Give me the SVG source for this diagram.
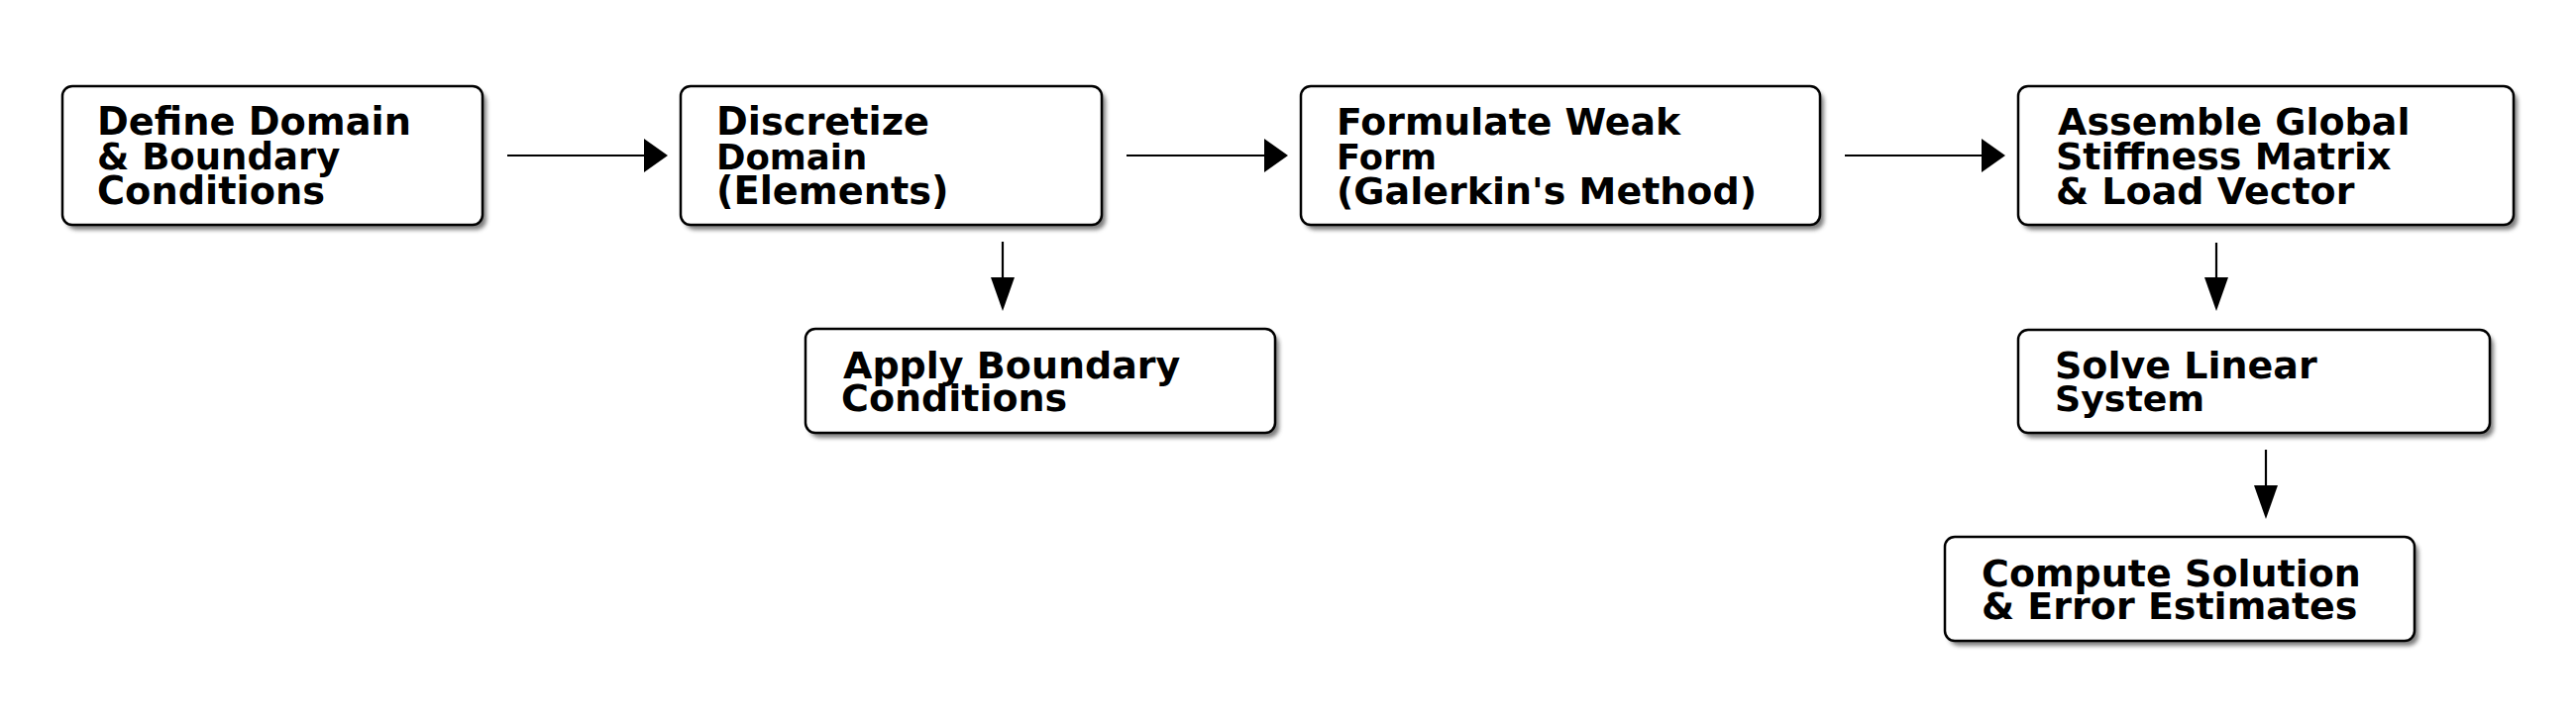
<svg xmlns="http://www.w3.org/2000/svg" width="2600" height="735" viewBox="0 0 2600 735">
<style>
.box{fill:#ffffff;stroke:#000000;stroke-width:2.5}
.shadow{fill:#666666;opacity:0.85}
.t{font-family:"DejaVu Sans","Verdana",sans-serif;font-weight:bold;fill:#000000}
.edge{stroke:#000000;stroke-width:2.2;fill:none}
.head{fill:#000000;stroke:none}
</style>
<defs>
<filter id="blur" x="-10%" y="-10%" width="120%" height="130%">
<feGaussianBlur stdDeviation="2"/>
</filter>
</defs>
<rect width="2600" height="735" fill="#ffffff"/>

<g id="n1">
<rect class="shadow" filter="url(#blur)" x="67" y="92" width="424" height="140" rx="10"/>
<rect class="box" x="63" y="87" width="424" height="140" rx="10"/>
<text class="t" x="98" y="136" font-size="38.3">Define Domain</text>
<text class="t" x="98" y="171" font-size="37">&amp; Boundary</text>
<text class="t" x="98" y="206" font-size="38.3">Conditions</text>
</g>

<g id="n2">
<rect class="shadow" filter="url(#blur)" x="691" y="92" width="425" height="140" rx="10"/>
<rect class="box" x="687" y="87" width="425" height="140" rx="10"/>
<text class="t" x="723" y="136" font-size="38.3">Discretize</text>
<text class="t" x="723" y="171" font-size="35.5">Domain</text>
<text class="t" x="723" y="206" font-size="38.3">(Elements)</text>
</g>

<g id="n3">
<rect class="shadow" filter="url(#blur)" x="1317" y="92" width="524" height="140" rx="10"/>
<rect class="box" x="1313" y="87" width="524" height="140" rx="10"/>
<text class="t" x="1349" y="136" font-size="37.8">Formulate Weak</text>
<text class="t" x="1349" y="171" font-size="35.3">Form</text>
<text class="t" x="1349" y="206" font-size="38">(Galerkin's Method)</text>
</g>

<g id="n4">
<rect class="shadow" filter="url(#blur)" x="2041" y="92" width="500" height="140" rx="10"/>
<rect class="box" x="2037" y="87" width="500" height="140" rx="10"/>
<text class="t" x="2077" y="136" font-size="38">Assemble Global</text>
<text class="t" x="2075" y="171" font-size="38">Stiffness Matrix</text>
<text class="t" x="2075" y="206" font-size="38">&amp; Load Vector</text>
</g>

<g id="n5">
<rect class="shadow" filter="url(#blur)" x="817" y="337" width="474" height="105" rx="10"/>
<rect class="box" x="813" y="332" width="474" height="105" rx="10"/>
<text class="t" x="851" y="382" font-size="38">Apply Boundary</text>
<text class="t" x="849" y="415" font-size="38">Conditions</text>
</g>

<g id="n6">
<rect class="shadow" filter="url(#blur)" x="2041" y="338" width="476" height="104" rx="10"/>
<rect class="box" x="2037" y="333" width="476" height="104" rx="10"/>
<text class="t" x="2074" y="382" font-size="38">Solve Linear</text>
<text class="t" x="2074" y="415" font-size="36.3">System</text>
</g>

<g id="n7">
<rect class="shadow" filter="url(#blur)" x="1967" y="547" width="474" height="105" rx="10"/>
<rect class="box" x="1963" y="542" width="474" height="105" rx="10"/>
<text class="t" x="2000" y="592" font-size="38">Compute Solution</text>
<text class="t" x="2000" y="625" font-size="38">&amp; Error Estimates</text>
</g>

<g id="edges">
<line class="edge" x1="512" y1="157" x2="652" y2="157"/>
<polygon class="head" points="674,157 650,140 650,174"/>
<line class="edge" x1="1137" y1="157" x2="1278" y2="157"/>
<polygon class="head" points="1300,157 1276,140 1276,174"/>
<line class="edge" x1="1862" y1="157" x2="2002" y2="157"/>
<polygon class="head" points="2024,157 2000,140 2000,174"/>
<line class="edge" x1="1012" y1="244" x2="1012" y2="282"/>
<polygon class="head" points="1012,314 1000,280 1024,280"/>
<line class="edge" x1="2237" y1="245" x2="2237" y2="282"/>
<polygon class="head" points="2237,314 2225,280 2249,280"/>
<line class="edge" x1="2287" y1="454" x2="2287" y2="492"/>
<polygon class="head" points="2287,524 2275,490 2299,490"/>
</g>
</svg>
